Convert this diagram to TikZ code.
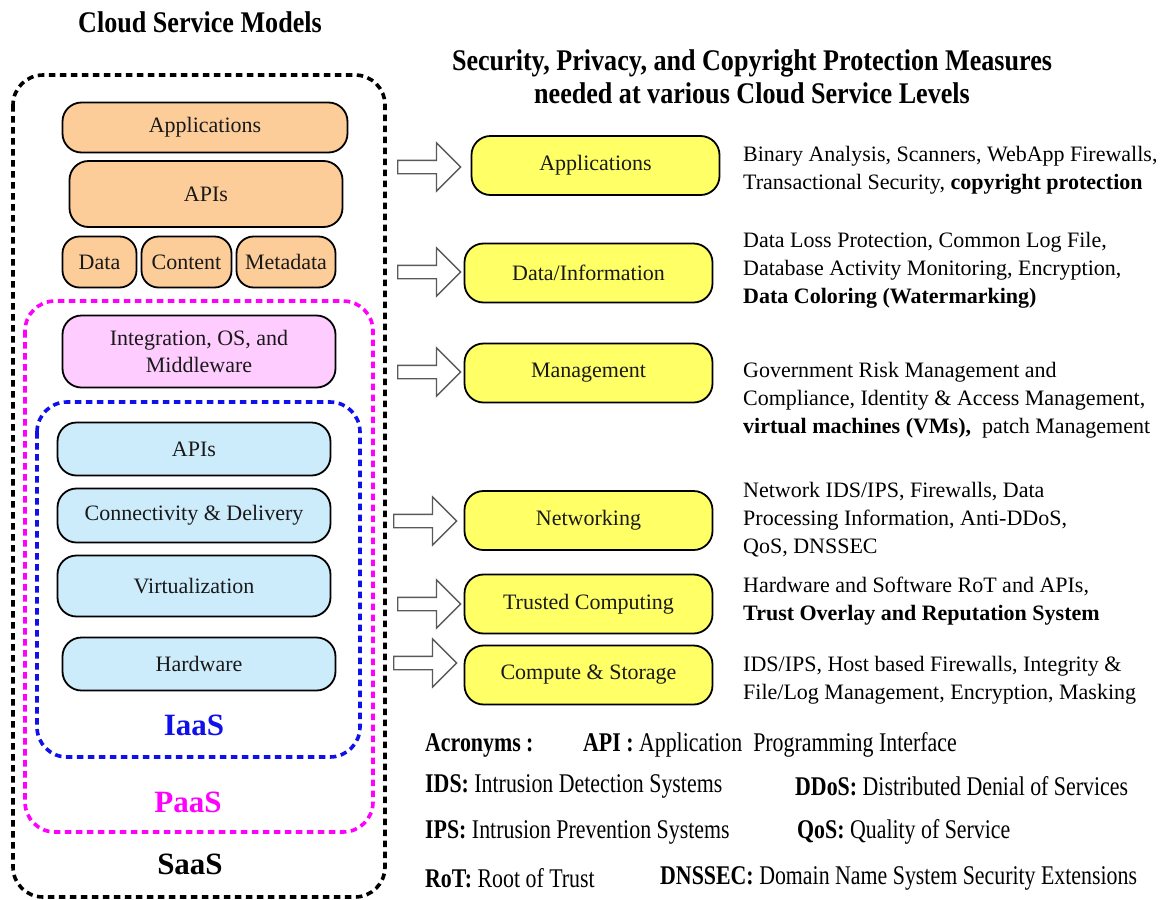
\documentclass[tikz,border=0pt]{standalone}
\usepackage{fontspec}
\setmainfont{Liberation Serif}
\newfontfamily\titlefont[FakeStretch=0.87]{Liberation Serif}
\newfontfamily\acrofont[FakeStretch=0.81]{Liberation Serif}
\usetikzlibrary{shapes.arrows}
\definecolor{peach}{RGB}{252,204,153}
\definecolor{lilac}{RGB}{255,204,255}
\definecolor{skyfill}{RGB}{204,236,252}
\definecolor{lemon}{RGB}{255,255,102}
\definecolor{iaasblue}{RGB}{16,16,235}
\definecolor{paasmag}{RGB}{255,0,255}

\begin{document}
\begin{tikzpicture}[x=1pt,y=-1pt,
  layer/.style={draw=black, line width=1.8pt, rounded corners=19pt, inner sep=0pt,
    align=center, font=\fontsize{22}{26.5}\selectfont, text=black!90},
  saaslayer/.style={layer, fill=peach},
  paaslayer/.style={layer, fill=lilac},
  iaaslayer/.style={layer, fill=skyfill},
  measure/.style={layer, fill=lemon, minimum width=248pt, minimum height=59pt},
  frame/.style={line width=3.6pt, dash pattern=on 6.5pt off 4.5pt, rounded corners=30pt},
  modelname/.style={font=\fontsize{31}{34}\selectfont\bfseries, inner sep=0pt},
  blockarrow/.style={single arrow, draw=black!65, fill=white, line width=1.3pt,
    minimum height=63pt, minimum width=47pt, single arrow head extend=17.5pt,
    inner xsep=0pt, inner ysep=6pt, anchor=tail},
  measuretext/.style={anchor=west, align=left, inner sep=0pt, font=\fontsize{22}{28}\selectfont},
  acro/.style={anchor=west, inner sep=0pt, font=\acrofont\fontsize{27}{30}\selectfont},
  heading/.style={align=center, inner sep=0pt, font=\titlefont\fontsize{30}{33}\selectfont\bfseries}
]
\useasboundingbox[fill=white] (0,0) rectangle (1160,900);

% headings
\node[heading] (leftTitle) at (200,22) {Cloud Service Models};
\node[heading] (rightTitle) at (752,76.5) {Security, Privacy, and Copyright Protection Measures\\needed at various Cloud Service Levels};

% service model frames
\draw[frame, draw=black] (13,75) rectangle (385,897);
\draw[frame, draw=paasmag] (25,301) rectangle (373,832);
\draw[frame, draw=iaasblue] (37,402) rectangle (360,757);

% SaaS layers
\node[saaslayer, minimum width=285pt, minimum height=50pt] (appS) at (205,127.5) {Applications};
\node[saaslayer, minimum width=273pt, minimum height=66pt] (apiS) at (206,194) {APIs};
\node[saaslayer, minimum width=74pt, minimum height=51pt, rounded corners=17pt] (dataS) at (99.5,262) {Data};
\node[saaslayer, minimum width=90pt, minimum height=51pt, rounded corners=17pt] (contentS) at (186.5,262) {Content};
\node[saaslayer, minimum width=99pt, minimum height=51pt, rounded corners=17pt] (metaS) at (286,262) {Metadata};

% PaaS layer
\node[paaslayer, minimum width=273pt, minimum height=72pt] (integP) at (199,351.5) {Integration, OS, and\\Middleware};

% IaaS layers
\node[iaaslayer, minimum width=273pt, minimum height=53pt] (apiI) at (194,449) {APIs};
\node[iaaslayer, minimum width=273pt, minimum height=54pt] (connI) at (194,515.5) {Connectivity \& Delivery};
\node[iaaslayer, minimum width=273pt, minimum height=61pt] (virtI) at (194,586) {Virtualization};
\node[iaaslayer, minimum width=273pt, minimum height=53pt] (hwI) at (199,664) {Hardware};

% model names
\node[modelname, text=iaasblue] (iaas) at (194,725) {IaaS};
\node[modelname, text=paasmag] (paas) at (188,802) {PaaS};
\node[modelname, text=black] (saas) at (190,864) {SaaS};

% protection levels
\node[measure] (mApp) at (595.5,165.5) {Applications};
\node[measure] (mData) at (588.5,273) {Data/Information};
\node[measure] (mMgmt) at (588.5,373) {Management};
\node[measure] (mNet) at (588.5,520.5) {Networking};
\node[measure] (mTrust) at (588.5,604) {Trusted Computing};
\node[measure] (mComp) at (588.5,675) {Compute \& Storage};

% block arrows towards the levels
\node[blockarrow] (arrApp) at (397,167) {};
\node[blockarrow] (arrData) at (397,272) {};
\node[blockarrow] (arrMgmt) at (397,372) {};
\node[blockarrow] (arrNet) at (393,521) {};
\node[blockarrow] (arrTrust) at (397,604) {};
\node[blockarrow] (arrComp) at (393,663) {};

% measures per level
\node[measuretext] (tApp) at (743,170) {Binary Analysis, Scanners, WebApp Firewalls,\\Transactional Security, \textbf{copyright protection}};
\node[measuretext] (tData) at (743,270) {Data Loss Protection, Common Log File,\\Database Activity Monitoring, Encryption,\\\textbf{Data Coloring (Watermarking)}};
\node[measuretext] (tMgmt) at (743,400.5) {Government Risk Management and\\Compliance, Identity \& Access Management,\\\textbf{virtual machines (VMs),}\ \ patch Management};
\node[measuretext] (tNet) at (743,520) {Network IDS/IPS, Firewalls, Data\\Processing Information, Anti-DDoS,\\QoS, DNSSEC};
\node[measuretext] (tTrust) at (743,601.5) {Hardware and Software RoT and APIs,\\\textbf{Trust Overlay and Reputation System}};
\node[measuretext] (tComp) at (743,680) {IDS/IPS, Host based Firewalls, Integrity \&\\File/Log Management, Encryption, Masking};

% acronyms
\node[acro] (acrHead) at (425,745) {\textbf{Acronyms :}};
\node[acro] (acrAPI) at (583,745) {\textbf{API :} Application\ \ Programming Interface};
\node[acro] (acrIDS) at (425,786) {\textbf{IDS:} Intrusion Detection Systems};
\node[acro] (acrDDoS) at (795,786) {\textbf{DDoS:} Distributed Denial of Services};
\node[acro] (acrIPS) at (425,832) {\textbf{IPS:} Intrusion Prevention Systems};
\node[acro] (acrQoS) at (797,832) {\textbf{QoS:} Quality of Service};
\node[acro] (acrRoT) at (425,878) {\textbf{RoT:} Root of Trust};
\node[acro] (acrDNS) at (660,878) {\textbf{DNSSEC:} Domain Name System Security Extensions};
\end{tikzpicture}
\end{document}
